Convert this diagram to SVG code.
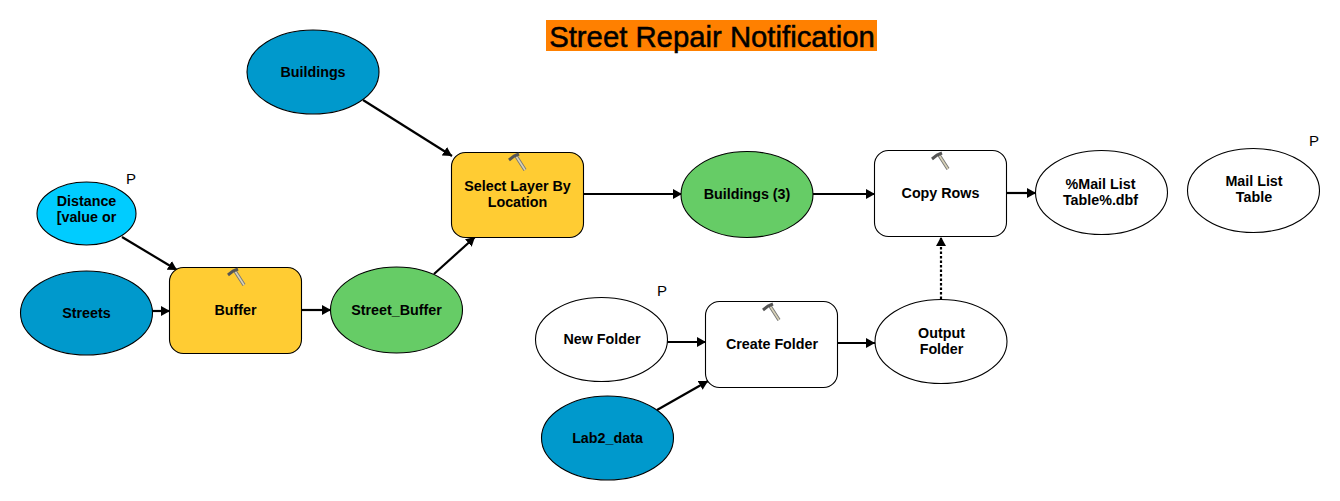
<svg xmlns="http://www.w3.org/2000/svg" width="1340" height="501" viewBox="0 0 1340 501">
<style>
text{font-family:"Liberation Sans",Arial,sans-serif;fill:#000}
.l{font-size:14.3px;font-weight:bold;text-anchor:middle}
.p{font-size:15px;text-anchor:middle}
.n{stroke:#000;stroke-width:1.1}
.c{stroke:#000;stroke-width:2.2;fill:none;marker-end:url(#a)}
.dark{fill:#0099cc}.green{fill:#66cc66}.yellow{fill:#ffcc33}.white{fill:#fff}.cyan{fill:#00ccff}
</style>
<defs>
<marker id="a" markerUnits="userSpaceOnUse" markerWidth="10" markerHeight="11" refX="9" refY="5.500" orient="auto"><path d="M0 0.500L9 5.500L0 10.500Z" fill="#000"/></marker>
<g id="hammer">
<path d="M-1 4L8 18" stroke="#777" stroke-width="3.4" fill="none"/>
<path d="M-1 4L8 18" stroke="#d8d2b8" stroke-width="1.6" fill="none"/>
<path d="M-8 8L-3 4L2 2" stroke="#555" stroke-width="3" fill="none"/>
</g>
</defs>
<rect width="1340" height="501" fill="#fff"/>
<g id="title"><rect x="546" y="20" width="331" height="31" fill="#ff8000"/><text x="712" y="46.500" font-size="29.300" stroke="#000" stroke-width="0.5" text-anchor="middle">Street Repair Notification</text></g>
<g id="connectors">
<path class="c" d="M363 100L452 156"/>
<path class="c" d="M122 237L177 270"/>
<path class="c" d="M152 311L170 311"/>
<path class="c" d="M302 310L331 310"/>
<path class="c" d="M434 274L475 237"/>
<path class="c" d="M583 194L682 194"/>
<path class="c" d="M813 194L875 194"/>
<path class="c" d="M1006 193L1036 193"/>
<path class="c" d="M667 342L706 342"/>
<path class="c" d="M657 410L708 381"/>
<path class="c" d="M837 343L875 343"/>
<path class="c" d="M941 299L941 237" stroke-dasharray="2.500 2"/>
</g>
<g id="buildings"><ellipse class="n dark" cx="313" cy="72" rx="66" ry="42"/><text class="l" x="313" y="77">Buildings</text></g>
<g id="distance"><ellipse class="n cyan" cx="86.500" cy="213.500" rx="49.500" ry="31.500"/><text class="l" x="86.500" y="206">Distance</text><text class="l" x="86.500" y="222">[value or</text><text class="p" x="131" y="184">P</text></g>
<g id="streets"><ellipse class="n dark" cx="86.500" cy="313" rx="66" ry="42"/><text class="l" x="86.500" y="318">Streets</text></g>
<g id="buffer"><rect class="n yellow" x="169.500" y="267.500" width="132" height="86" rx="14"/><use href="#hammer" x="236" y="267"/><text class="l" x="235.500" y="315">Buffer</text></g>
<g id="street_buffer"><ellipse class="n green" cx="396.500" cy="310" rx="66" ry="43"/><text class="l" x="396.500" y="315">Street_Buffer</text></g>
<g id="select"><rect class="n yellow" x="451.500" y="152.500" width="132" height="85" rx="14"/><use href="#hammer" x="517" y="152"/><text class="l" x="517.500" y="191">Select Layer By</text><text class="l" x="517.500" y="207">Location</text></g>
<g id="buildings3"><ellipse class="n green" cx="747" cy="194.500" rx="66" ry="43"/><text class="l" x="747" y="199">Buildings (3)</text></g>
<g id="copy_rows"><rect class="n white" x="874.500" y="150.500" width="132" height="86" rx="14"/><use href="#hammer" x="940" y="151"/><text class="l" x="940.500" y="198">Copy Rows</text></g>
<g id="mail_dbf"><ellipse class="n white" cx="1101.500" cy="192.500" rx="66" ry="42"/><text class="l" x="1100.500" y="189">%Mail List</text><text class="l" x="1100.500" y="205">Table%.dbf</text></g>
<g id="mail_table"><ellipse class="n white" cx="1253.500" cy="190.500" rx="66" ry="42"/><text class="l" x="1254" y="186">Mail List</text><text class="l" x="1254" y="202">Table</text><text class="p" x="1314" y="146">P</text></g>
<g id="new_folder"><ellipse class="n white" cx="601.500" cy="339.500" rx="66" ry="42"/><text class="l" x="602" y="344">New Folder</text><text class="p" x="662" y="296">P</text></g>
<g id="create_folder"><rect class="n white" x="705.500" y="301.500" width="132" height="86" rx="14"/><use href="#hammer" x="771" y="302"/><text class="l" x="772" y="349">Create Folder</text></g>
<g id="output_folder"><ellipse class="n white" cx="941" cy="341.500" rx="66" ry="42"/><text class="l" x="941.500" y="338">Output</text><text class="l" x="941.500" y="354">Folder</text></g>
<g id="lab2"><ellipse class="n dark" cx="607.500" cy="438" rx="66" ry="42"/><text class="l" x="607.500" y="443">Lab2_data</text></g>
</svg>
